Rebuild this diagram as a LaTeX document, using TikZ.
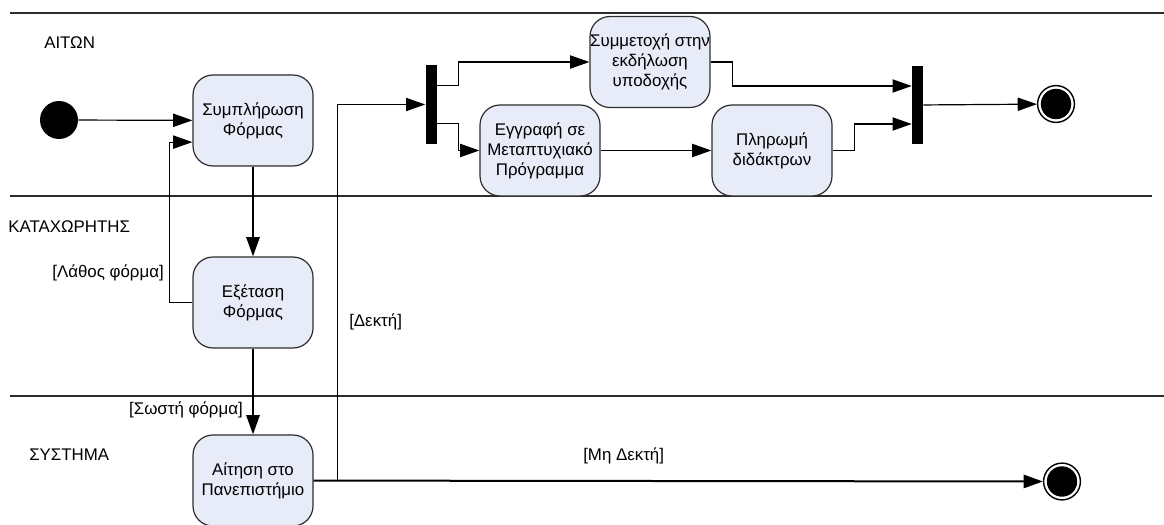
\documentclass[tikz,border=0pt]{standalone}
\usepackage{fontspec}
\setmainfont{Liberation Sans}
\usetikzlibrary{arrows.meta}
\definecolor{actfill}{RGB}{232,236,248}
\definecolor{edge}{RGB}{45,45,45}
\tikzset{
  act/.style={draw=edge, line width=0.3mm, fill=actfill, rounded corners=5mm,
    minimum width=30mm, minimum height=22.75mm, inner sep=0pt, align=center},
  syncbar/.style={fill=black, minimum width=2.75mm, minimum height=19.5mm, inner sep=0pt},
  startdot/.style={circle, fill=black, minimum size=9.5mm, inner sep=0pt},
  enddot/.style={circle, draw=black, line width=0.35mm, fill=white, minimum size=9.2mm,
    inner sep=0pt, path picture={\fill[black] (path picture bounding box.center) circle[radius=3.8mm];}},
  flow/.style={-{Triangle[length=4.8mm,width=3.3mm]}, line width=0.3mm},
  heavy/.style={flow, line width=0.5mm},
  lane/.style={line width=0.5mm, draw=edge},
  guard/.style={inner sep=0pt},
}
\begin{document}
\begin{tikzpicture}[x=0.25mm, y=-0.25mm, font=\fontsize{12}{14.2}\selectfont]
\useasboundingbox (0,0) rectangle (1164,524);
% Swimlanes
\draw[lane] (10,13) -- (1164,13);
\draw[lane] (10,196) -- (1152,196);
\draw[lane] (10,396) -- (1164,396);
\node[guard, anchor=west] (laneA) at (44,43) {ΑΙΤΩΝ};
\node[guard, anchor=west] (laneB) at (8,227) {ΚΑΤΑΧΩΡΗΤΗΣ};
\node[guard, anchor=west] (laneC) at (29,455) {ΣΥΣΤΗΜΑ};
% Activities
\node[startdot] (start) at (59,120) {};
\node[act] (sympl) at (253,120.5) {Συμπλήρωση\\Φόρμας};
\node[act] (exet) at (253,302.5) {Εξέταση\\Φόρμας};
\node[act] (aitisi) at (253,480.5) {Αίτηση στο\\Πανεπιστήμιο};
\node[act] (symm) at (650,62) {Συμμετοχή στην\\εκδήλωση\\υποδοχής};
\node[act] (engr) at (540,150.5) {Εγγραφή σε\\Μεταπτυχιακό\\Πρόγραμμα};
\node[act] (plir) at (772,150.5) {Πληρωμή\\διδάκτρων};
\node[syncbar] (fork) at (431,104.5) {};
\node[syncbar] (join) at (917.5,105) {};
\node[enddot] (endA) at (1056,104) {};
\node[enddot] (endB) at (1062,481.5) {};
% Transitions
\draw[flow] (start) -- (sympl);
\draw[heavy] (sympl) -- (exet);
\draw[flow] (exet.west) -- ++(-23,0) |- ([yshift=-5.4mm]sympl.west);
\draw[heavy] (exet) -- (aitisi);
\draw[heavy] (aitisi) -- (endB);
\draw[flow] (aitisi.east) ++(24,0) |- (fork);
\draw[flow] ([yshift=4.75mm]fork.east) -- ++(22,0) |- (symm);
\draw[flow] ([yshift=-4.75mm]fork.east) -- ++(22,0) |- (engr);
\draw[flow] (engr) -- (plir);
\draw[flow] (symm.east) -- ++(22,0) |- ([yshift=4.75mm]join.west);
\draw[flow] (plir.east) -- ++(22,0) |- ([yshift=-4.75mm]join.west);
\draw[flow] (join) -- (endA);
% Guards
\node[guard, anchor=east] (wrong) at (164,273) {[Λάθος φόρμα]};
\node[guard, anchor=east] (right) at (243,410) {[Σωστή φόρμα]};
\node[guard, anchor=west] (accept) at (349,322) {[Δεκτή]};
\node[guard, anchor=west] (reject) at (583,456) {[Μη Δεκτή]};
\end{tikzpicture}
\end{document}
